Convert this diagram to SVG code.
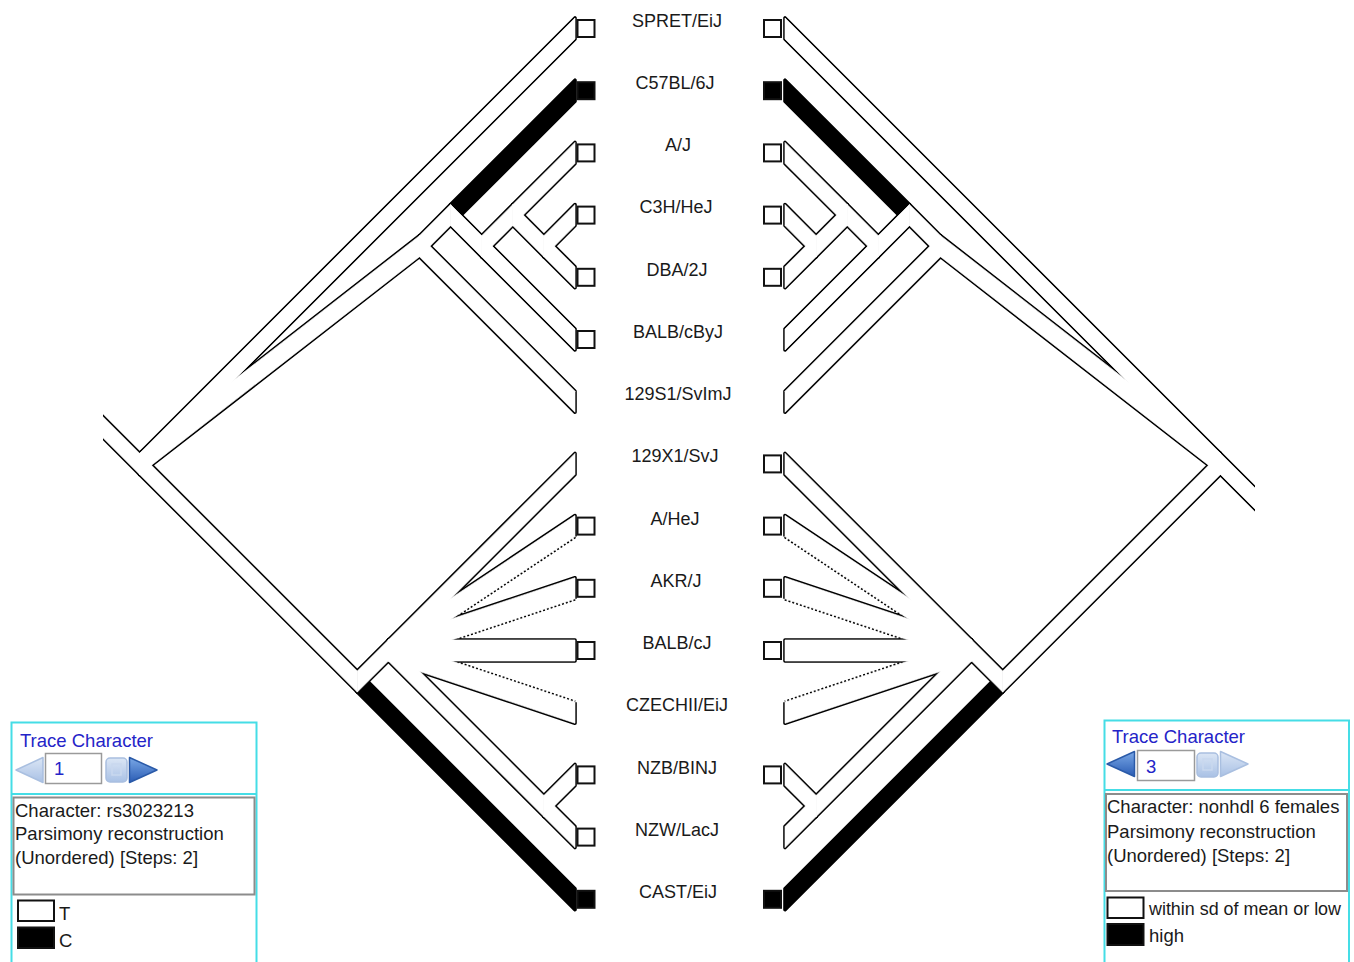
<svg xmlns="http://www.w3.org/2000/svg" width="1354" height="962" viewBox="0 0 1354 962">
<defs>
<style>
.o{fill:#000;stroke:#000;stroke-width:3.6;stroke-linejoin:round}
.w{fill:#fff;stroke:#fff;stroke-width:0.7;stroke-linejoin:round}
.k{fill:#000;stroke:none}
.e{fill:none;stroke:#000;stroke-width:3.6;stroke-linejoin:round}
.d{fill:none;stroke:#000;stroke-width:3.6;stroke-dasharray:2 2}
.lbl{font-family:"Liberation Sans",Arial,sans-serif;font-size:18px;text-anchor:middle;fill:#1a1a1a}
.sw{fill:#fff;stroke:#111;stroke-width:2}
.sb{fill:#000;stroke:#111;stroke-width:2}
.frame{fill:#fff;stroke:#45dde6;stroke-width:2}
.sep{stroke:#45dde6;stroke-width:2}
.info{fill:#fff;stroke:#8c8c8c;stroke-width:2}
.ttl{font-family:"Liberation Sans",Arial,sans-serif;font-size:18.5px;fill:#2424c8}
.txt{font-family:"Liberation Sans",Arial,sans-serif;font-size:18.5px;fill:#1a1a1a}
.box{fill:#fff;stroke:#9a9a9a;stroke-width:1.5}
.pale{fill:url(#gPale);stroke:#a9bfe0;stroke-width:1.5;stroke-linejoin:round}
.blue{fill:url(#gBlue);stroke:#2a5aa8;stroke-width:1.5;stroke-linejoin:round}
.lg{stroke:#111;stroke-width:2}
</style>
<linearGradient id="gPale" x1="0" y1="0" x2="0" y2="1"><stop offset="0" stop-color="#dbe6f5"/><stop offset="1" stop-color="#a9c1e5"/></linearGradient>
<linearGradient id="gBlue" x1="0" y1="0" x2="0" y2="1"><stop offset="0" stop-color="#7aa8e6"/><stop offset="1" stop-color="#2a5cb4"/></linearGradient>
<polygon id="pSPRET" points="139.6,453.4 575,18 575,39 139.6,474.4"/>
<polygon id="pSPRETR" points="103.5,489.5 575,18 575,39 103.5,510.5"/>
<polygon id="pU" points="139.6,453.4 419.5,235.7 419.5,256.7 139.6,474.4"/>
<polygon id="pB" points="139.6,453.4 357.3,671.1 357.3,692.1 139.6,474.4"/>
<polygon id="pBL" points="101.5,415.3 357.3,671.1 357.3,692.1 101.5,436.3"/>
<polygon id="pZ" points="419.5,235.7 450.6,204.6 450.6,225.6 419.5,256.7"/>
<polygon id="p129S1" points="419.5,235.7 575,391.2 575,412.2 419.5,256.7"/>
<polygon id="pC57" points="450.6,204.6 575,80.2 575,101.2 450.6,225.6"/>
<polygon id="pW" points="450.6,204.6 481.7,235.7 481.7,256.7 450.6,225.6"/>
<polygon id="pX" points="481.7,235.7 512.8,204.6 512.8,225.6 481.7,256.7"/>
<polygon id="pBcBy" points="481.7,235.7 575,329 575,350 481.7,256.7"/>
<polygon id="pAJ" points="512.8,204.6 575,142.4 575,163.4 512.8,225.6"/>
<polygon id="pY" points="512.8,204.6 543.9,235.7 543.9,256.7 512.8,225.6"/>
<polygon id="pC3H" points="543.9,235.7 575,204.6 575,225.6 543.9,256.7"/>
<polygon id="pDBA" points="543.9,235.7 575,266.8 575,287.8 543.9,256.7"/>
<polygon id="pQ" points="357.3,671.1 388.4,640 388.4,661 357.3,692.1"/>
<polygon id="pCAST" points="357.3,671.1 575,888.8 575,909.8 357.3,692.1"/>
<polygon id="p129X1" points="388.4,640 575,453.4 575,474.4 388.4,661"/>
<polygon id="pAHeJ" points="388.4,640 575,515.6 575,536.6 388.4,661"/>
<polygon id="pAKR" points="388.4,640 575,577.8 575,598.8 388.4,661"/>
<polygon id="pBc" points="388.4,640 575,640 575,661 388.4,661"/>
<polygon id="pCZ" points="388.4,640 575,702.2 575,723.2 388.4,661"/>
<polygon id="pN" points="388.4,640 543.9,795.5 543.9,816.5 388.4,661"/>
<polygon id="pNZB" points="543.9,795.5 575,764.4 575,785.4 543.9,816.5"/>
<polygon id="pNZW" points="543.9,795.5 575,826.6 575,847.6 543.9,816.5"/>
<g id="gO" class="o">
<use href="#pU"/><use href="#pZ"/><use href="#p129S1"/><use href="#pC57"/><use href="#pW"/><use href="#pX"/><use href="#pBcBy"/><use href="#pAJ"/><use href="#pY"/><use href="#pC3H"/><use href="#pDBA"/><use href="#pQ"/><use href="#pCAST"/><use href="#p129X1"/><use href="#pBc"/><use href="#pN"/><use href="#pNZB"/><use href="#pNZW"/>
</g>
<g id="gE">
<polyline class="e" points="388.4,640 575,515.6 575,536.6"/><line class="d" x1="575" y1="536.6" x2="388.4" y2="661"/>
<polyline class="e" points="388.4,640 575,577.8 575,598.8"/><line class="d" x1="575" y1="598.8" x2="388.4" y2="661"/>
<line class="d" x1="388.4" y1="640" x2="575" y2="702.2"/><polyline class="e" points="575,702.2 575,723.2 388.4,661"/>
</g>
<g id="gK" class="k"><use href="#pC57"/><use href="#pCAST"/></g>
<g id="gW" class="w">
<use href="#pU"/><use href="#pZ"/><use href="#p129S1"/><use href="#pW"/><use href="#pX"/><use href="#pBcBy"/><use href="#pAJ"/><use href="#pY"/><use href="#pC3H"/><use href="#pDBA"/><use href="#pQ"/><use href="#p129X1"/><use href="#pAHeJ"/><use href="#pAKR"/><use href="#pBc"/><use href="#pCZ"/><use href="#pN"/><use href="#pNZB"/><use href="#pNZW"/>
</g>
</defs>
<rect width="1354" height="962" fill="#fff"/>

<g id="branches-left">
<g class="o"><use href="#pSPRET"/><use href="#pBL"/></g>
<use href="#gO"/>
<use href="#gE"/>
<use href="#gK"/>
<use href="#gW"/>
<g class="w"><use href="#pSPRET"/><use href="#pBL"/></g>
<rect x="80" y="395" width="23" height="60" fill="#fff"/>
</g>

<g id="branches-right" transform="matrix(-1 0 0 1 1360 0)">
<g class="o"><use href="#pSPRETR"/><use href="#pB"/></g>
<use href="#gO"/>
<use href="#gE"/>
<use href="#gK"/>
<use href="#gW"/>
<g class="w"><use href="#pSPRETR"/><use href="#pB"/></g>
<rect x="80" y="470" width="25" height="60" fill="#fff"/>
</g>

<g id="taxon-SPRET"><text class="lbl" x="677" y="26.7">SPRET/EiJ</text><rect class="sw" x="577.5" y="20" width="17" height="17"/><rect class="sw" x="764" y="20" width="17" height="17"/></g>
<g id="taxon-C57BL"><text class="lbl" x="675" y="88.9">C57BL/6J</text><rect class="sb" x="577.5" y="82.2" width="17" height="17"/><rect class="sb" x="764" y="82.2" width="17" height="17"/></g>
<g id="taxon-AJ"><text class="lbl" x="678" y="151.2">A/J</text><rect class="sw" x="577.5" y="144.4" width="17" height="17"/><rect class="sw" x="764" y="144.4" width="17" height="17"/></g>
<g id="taxon-C3H"><text class="lbl" x="676" y="213.4">C3H/HeJ</text><rect class="sw" x="577.5" y="206.6" width="17" height="17"/><rect class="sw" x="764" y="206.6" width="17" height="17"/></g>
<g id="taxon-DBA"><text class="lbl" x="677" y="275.7">DBA/2J</text><rect class="sw" x="577.5" y="268.8" width="17" height="17"/><rect class="sw" x="764" y="268.8" width="17" height="17"/></g>
<g id="taxon-BALBcByJ"><text class="lbl" x="678" y="337.9">BALB/cByJ</text><rect class="sw" x="577.5" y="331" width="17" height="17"/></g>
<g id="taxon-129S1"><text class="lbl" x="678" y="400.2">129S1/SvImJ</text></g>
<g id="taxon-129X1"><text class="lbl" x="675" y="462.4">129X1/SvJ</text><rect class="sw" x="764" y="455.4" width="17" height="17"/></g>
<g id="taxon-AHeJ"><text class="lbl" x="675" y="524.7">A/HeJ</text><rect class="sw" x="577.5" y="517.6" width="17" height="17"/><rect class="sw" x="764" y="517.6" width="17" height="17"/></g>
<g id="taxon-AKR"><text class="lbl" x="676" y="586.9">AKR/J</text><rect class="sw" x="577.5" y="579.8" width="17" height="17"/><rect class="sw" x="764" y="579.8" width="17" height="17"/></g>
<g id="taxon-BALBcJ"><text class="lbl" x="677" y="649.2">BALB/cJ</text><rect class="sw" x="577.5" y="642" width="17" height="17"/><rect class="sw" x="764" y="642" width="17" height="17"/></g>
<g id="taxon-CZECHII"><text class="lbl" x="677" y="711.4">CZECHII/EiJ</text></g>
<g id="taxon-NZB"><text class="lbl" x="677" y="773.7">NZB/BINJ</text><rect class="sw" x="577.5" y="766.4" width="17" height="17"/><rect class="sw" x="764" y="766.4" width="17" height="17"/></g>
<g id="taxon-NZW"><text class="lbl" x="677" y="835.9">NZW/LacJ</text><rect class="sw" x="577.5" y="828.6" width="17" height="17"/></g>
<g id="taxon-CAST"><text class="lbl" x="678" y="898.2">CAST/EiJ</text><rect class="sb" x="577.5" y="890.8" width="17" height="17"/><rect class="sb" x="764" y="890.8" width="17" height="17"/></g>

<g id="panel-left">
<rect class="frame" x="11.5" y="722.5" width="245" height="260"/>
<line class="sep" x1="11.5" y1="794" x2="256.5" y2="794"/>
<text class="ttl" x="20" y="746.5">Trace Character</text>
<polygon class="pale" points="16,770 43,757.5 43,782.5"/>
<rect class="box" x="45.5" y="753.5" width="56" height="30"/>
<text class="ttl" x="54" y="775">1</text>
<rect class="pale" x="106" y="758" width="21" height="24" rx="4"/>
<rect x="112" y="764" width="9" height="11" fill="none" stroke="#c9d8ee" stroke-width="1.5"/>
<polygon class="blue" points="129.5,757.5 157,770 129.5,782.5"/>
<rect class="info" x="13.5" y="797.5" width="241" height="97"/>
<text class="txt" x="15" y="816.5">Character: rs3023213</text>
<text class="txt" x="15" y="840">Parsimony reconstruction</text>
<text class="txt" x="15" y="864">(Unordered) [Steps: 2]</text>
<rect class="lg" x="18" y="900.5" width="36" height="20.5" fill="#fff"/>
<text class="txt" x="59" y="920">T</text>
<rect class="lg" x="18" y="927.5" width="36" height="20.5" fill="#000"/>
<text class="txt" x="59" y="947">C</text>
</g>

<g id="panel-right">
<rect class="frame" x="1104.5" y="720.5" width="244.5" height="260"/>
<line class="sep" x1="1104.5" y1="790" x2="1349" y2="790"/>
<text class="ttl" x="1112" y="742.5">Trace Character</text>
<polygon class="blue" points="1107,764 1134.5,751.5 1134.5,776.5"/>
<rect class="box" x="1137.5" y="750.5" width="57" height="30"/>
<text class="ttl" x="1146" y="773">3</text>
<rect class="pale" x="1197" y="753" width="21" height="24" rx="4"/>
<rect x="1203" y="759" width="9" height="11" fill="none" stroke="#c9d8ee" stroke-width="1.5"/>
<polygon class="pale" points="1220.5,751.5 1248,764 1220.5,776.5"/>
<rect class="info" x="1106" y="794" width="241" height="97"/>
<text class="txt" x="1107" y="813">Character: nonhdl 6 females</text>
<text class="txt" x="1107" y="838">Parsimony reconstruction</text>
<text class="txt" x="1107" y="862">(Unordered) [Steps: 2]</text>
<rect class="lg" x="1107.5" y="897.5" width="36" height="20.5" fill="#fff"/>
<text class="txt" x="1149" y="915" textLength="192" lengthAdjust="spacingAndGlyphs">within sd of mean or low</text>
<rect class="lg" x="1107.5" y="924" width="36" height="21" fill="#000"/>
<text class="txt" x="1149" y="942">high</text>
</g>
</svg>
